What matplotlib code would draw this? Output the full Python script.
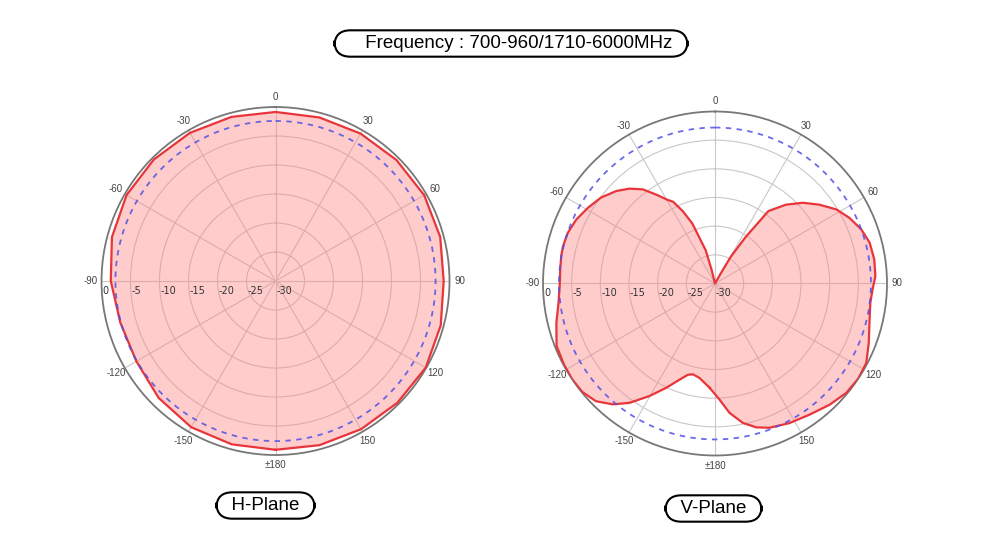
import matplotlib.pyplot as plt
import numpy as np

plt.rcParams['font.family'] = ['Liberation Sans', 'DejaVu Sans']

title = 'Frequency : 700-960/1710-6000MHz'
ring_db = [0, -5, -10, -15, -20, -25, -30]
theta_ticks = [0, 30, 60, 90, 120, 150, 180, 210, 240, 270, 300, 330]
theta_labels = ['0', '30', '60', '90', '120', '150', '±180',
                '-150', '-120', '-90', '-60', '-30']

# H-plane, gain in dB read every 15 degrees
h_angle = [-180, -165, -150, -135, -120, -105, -90, -75, -60, -45, -30, -15,
           0, 15, 30, 45, 60, 75, 90, 105, 120, 135, 150, 165]
h_gain = [-0.9, -0.85, -0.9, -1.5, -2.3, -2.3, -1.6, -0.8, -0.35, -0.35, -0.5, -0.7,
          -0.85, -0.8, -0.65, -0.5, -0.4, -0.6, -1.0, -0.5, -0.1, -0.3, -0.5, -0.7]
h_ref = -2.4

# V-plane, gain in dB
v_angle = [-177, -170.7, -166.3, -163.5, -159.7, -154.9, -149.8, -144.4, -139.8, -134.7,
           -129.2, -123.9, -118.3, -111.5, -103.9, -97, -91, -84.8, -79.9, -76.2,
           -71, -65.3, -59.2, -53, -46.9, -42.1, -37.5, -33.5, -29.9, -27.1,
           -24, -20.7, -15.6, -14, -12, 0, 28, 29.7, 30.5, 33.4,
           36.4, 42, 47.4, 52.9, 58.6, 64, 69.7, 75.2, 81.4, 87.4,
           92.2, 97.1, 104.3, 111.1, 117.7, 123.6, 129.8, 136.6, 144.2, 151.9,
           159.3, 164, 168.7, 173.6, 177.8]
v_gain = [-11.8, -13.3, -13.7, -13.4, -12.1, -9.9, -7.3, -4.4, -2.4, -0.8,
          -0.1, 0, -0.1, -0.3, -1.5, -2.5, -2.9, -2.9, -2.75, -2.7,
          -2.85, -3.35, -4.2, -5.1, -6.4, -7.7, -9.3, -11.4, -13.1, -14.0,
          -16.2, -18.8, -24.0, -27.6, -30, -30, -30, -28.0, -24.6, -20.3,
          -14.3, -11.5, -9.2, -7.2, -5.2, -3.9, -2.8, -2.1, -1.9, -2.0,
          -2.5, -2.7, -2.2, -1.25, -0.2, 0, -0.2, -0.9, -1.8, -2.4,
          -3.1, -3.9, -5.2, -7.3, -9.75]
v_ref = -2.8

fig = plt.figure(figsize=(10, 5.5), dpi=100)
box = dict(boxstyle='round,pad=0.25,rounding_size=0.85', fc='white', ec='black', lw=1.5)


def draw_plane(rect, angles, gains, ref):
    ax = fig.add_axes(rect, projection='polar')
    ax.set_theta_zero_location('N')
    ax.set_theta_direction(-1)
    ax.set_ylim(-30, 0)
    ax.set_thetagrids(theta_ticks, theta_labels)
    ax.set_rgrids([-25, -20, -15, -10, -5], labels=[])
    ax.grid(color='#c8c8c8', lw=0.8)
    ax.tick_params(axis='x', pad=-3, labelsize=7, labelcolor='#444444')
    ax.spines['polar'].set_color('#777777')
    ax.spines['polar'].set_linewidth(1.3)

    th = np.deg2rad(angles + angles[:1])
    r = gains + gains[:1]
    ax.fill(th, r, color='#ff8080', alpha=0.40, lw=0, zorder=2)
    ax.plot(th, r, color='#e8353a', lw=1.6, zorder=3)

    circ = np.linspace(0, 2 * np.pi, 361)
    ax.plot(circ, np.full_like(circ, ref), color='#5050e8', lw=1.3,
            ls=(0, (3, 3)), zorder=4, alpha=0.85)

    for db in ring_db:
        ax.annotate(str(db), xy=(np.deg2rad(270), db), xytext=(1, -10),
                    textcoords='offset pixels', ha='left', va='center',
                    fontsize=7, color='#333333', family='DejaVu Sans')
    return ax


draw_plane([0.1015, 0.1727, 0.348, 0.6327], h_angle, h_gain, h_ref)
draw_plane([0.543, 0.1718, 0.344, 0.6255], v_angle, v_gain, v_ref)

fig.text(0.2655, 1 - 505.5 / 550, '  H-Plane  ', ha='center', va='center',
         fontsize=13.5, bbox=box)
fig.text(0.7135, 1 - 508.5 / 550, '  V-Plane  ', ha='center', va='center',
         fontsize=13.5, bbox=box)
fig.text(0.511, 1 - 43.5 / 550, '     ' + title + '  ', ha='center', va='center',
         fontsize=13.5, bbox=box)

fig.savefig('out.png', dpi=100)
